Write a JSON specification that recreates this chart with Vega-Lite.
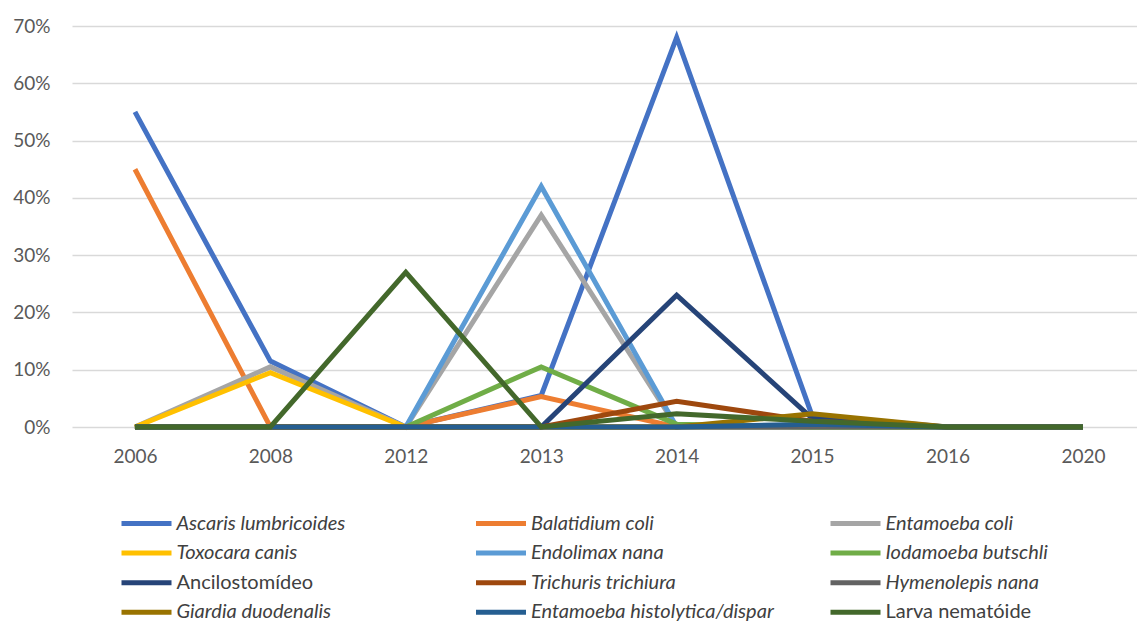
{
  "$schema": "https://vega.github.io/schema/vega-lite/v6.json",
  "autosize": "none",
  "width": 1065,
  "height": 401,
  "padding": {"left": 72, "top": 26, "right": 0, "bottom": 196},
  "background": "white",
  "config": {
    "view": {"stroke": null},
    "font": "Lato"
  },
  "data": {
    "values": [
      {"year": "2006", "species": "Ascaris lumbricoides", "value": 0.55},
      {"year": "2008", "species": "Ascaris lumbricoides", "value": 0.115},
      {"year": "2012", "species": "Ascaris lumbricoides", "value": 0},
      {"year": "2013", "species": "Ascaris lumbricoides", "value": 0.055},
      {"year": "2014", "species": "Ascaris lumbricoides", "value": 0.68},
      {"year": "2015", "species": "Ascaris lumbricoides", "value": 0.02},
      {"year": "2016", "species": "Ascaris lumbricoides", "value": 0},
      {"year": "2020", "species": "Ascaris lumbricoides", "value": 0},

      {"year": "2006", "species": "Balatidium coli", "value": 0.45},
      {"year": "2008", "species": "Balatidium coli", "value": 0},
      {"year": "2012", "species": "Balatidium coli", "value": 0},
      {"year": "2013", "species": "Balatidium coli", "value": 0.053},
      {"year": "2014", "species": "Balatidium coli", "value": 0},
      {"year": "2015", "species": "Balatidium coli", "value": 0},
      {"year": "2016", "species": "Balatidium coli", "value": 0},
      {"year": "2020", "species": "Balatidium coli", "value": 0},

      {"year": "2006", "species": "Entamoeba coli", "value": 0},
      {"year": "2008", "species": "Entamoeba coli", "value": 0.105},
      {"year": "2012", "species": "Entamoeba coli", "value": 0},
      {"year": "2013", "species": "Entamoeba coli", "value": 0.37},
      {"year": "2014", "species": "Entamoeba coli", "value": 0},
      {"year": "2015", "species": "Entamoeba coli", "value": 0},
      {"year": "2016", "species": "Entamoeba coli", "value": 0},
      {"year": "2020", "species": "Entamoeba coli", "value": 0},

      {"year": "2006", "species": "Toxocara canis", "value": 0},
      {"year": "2008", "species": "Toxocara canis", "value": 0.095},
      {"year": "2012", "species": "Toxocara canis", "value": 0},
      {"year": "2013", "species": "Toxocara canis", "value": 0},
      {"year": "2014", "species": "Toxocara canis", "value": 0},
      {"year": "2015", "species": "Toxocara canis", "value": 0},
      {"year": "2016", "species": "Toxocara canis", "value": 0},
      {"year": "2020", "species": "Toxocara canis", "value": 0},

      {"year": "2006", "species": "Endolimax nana", "value": 0},
      {"year": "2008", "species": "Endolimax nana", "value": 0},
      {"year": "2012", "species": "Endolimax nana", "value": 0},
      {"year": "2013", "species": "Endolimax nana", "value": 0.42},
      {"year": "2014", "species": "Endolimax nana", "value": 0},
      {"year": "2015", "species": "Endolimax nana", "value": 0},
      {"year": "2016", "species": "Endolimax nana", "value": 0},
      {"year": "2020", "species": "Endolimax nana", "value": 0},

      {"year": "2006", "species": "Iodamoeba butschli", "value": 0},
      {"year": "2008", "species": "Iodamoeba butschli", "value": 0},
      {"year": "2012", "species": "Iodamoeba butschli", "value": 0},
      {"year": "2013", "species": "Iodamoeba butschli", "value": 0.105},
      {"year": "2014", "species": "Iodamoeba butschli", "value": 0.005},
      {"year": "2015", "species": "Iodamoeba butschli", "value": 0},
      {"year": "2016", "species": "Iodamoeba butschli", "value": 0},
      {"year": "2020", "species": "Iodamoeba butschli", "value": 0},

      {"year": "2006", "species": "Ancilostomídeo", "value": 0},
      {"year": "2008", "species": "Ancilostomídeo", "value": 0},
      {"year": "2012", "species": "Ancilostomídeo", "value": 0},
      {"year": "2013", "species": "Ancilostomídeo", "value": 0},
      {"year": "2014", "species": "Ancilostomídeo", "value": 0.23},
      {"year": "2015", "species": "Ancilostomídeo", "value": 0.015},
      {"year": "2016", "species": "Ancilostomídeo", "value": 0},
      {"year": "2020", "species": "Ancilostomídeo", "value": 0},

      {"year": "2006", "species": "Trichuris trichiura", "value": 0},
      {"year": "2008", "species": "Trichuris trichiura", "value": 0},
      {"year": "2012", "species": "Trichuris trichiura", "value": 0},
      {"year": "2013", "species": "Trichuris trichiura", "value": 0},
      {"year": "2014", "species": "Trichuris trichiura", "value": 0.045},
      {"year": "2015", "species": "Trichuris trichiura", "value": 0.01},
      {"year": "2016", "species": "Trichuris trichiura", "value": 0},
      {"year": "2020", "species": "Trichuris trichiura", "value": 0},

      {"year": "2006", "species": "Hymenolepis nana", "value": 0},
      {"year": "2008", "species": "Hymenolepis nana", "value": 0},
      {"year": "2012", "species": "Hymenolepis nana", "value": 0},
      {"year": "2013", "species": "Hymenolepis nana", "value": 0},
      {"year": "2014", "species": "Hymenolepis nana", "value": 0},
      {"year": "2015", "species": "Hymenolepis nana", "value": 0},
      {"year": "2016", "species": "Hymenolepis nana", "value": 0},
      {"year": "2020", "species": "Hymenolepis nana", "value": 0},

      {"year": "2006", "species": "Giardia duodenalis", "value": 0},
      {"year": "2008", "species": "Giardia duodenalis", "value": 0},
      {"year": "2012", "species": "Giardia duodenalis", "value": 0},
      {"year": "2013", "species": "Giardia duodenalis", "value": 0},
      {"year": "2014", "species": "Giardia duodenalis", "value": 0},
      {"year": "2015", "species": "Giardia duodenalis", "value": 0.023},
      {"year": "2016", "species": "Giardia duodenalis", "value": 0},
      {"year": "2020", "species": "Giardia duodenalis", "value": 0},

      {"year": "2006", "species": "Entamoeba histolytica/dispar", "value": 0},
      {"year": "2008", "species": "Entamoeba histolytica/dispar", "value": 0},
      {"year": "2012", "species": "Entamoeba histolytica/dispar", "value": 0},
      {"year": "2013", "species": "Entamoeba histolytica/dispar", "value": 0},
      {"year": "2014", "species": "Entamoeba histolytica/dispar", "value": 0},
      {"year": "2015", "species": "Entamoeba histolytica/dispar", "value": 0.005},
      {"year": "2016", "species": "Entamoeba histolytica/dispar", "value": 0},
      {"year": "2020", "species": "Entamoeba histolytica/dispar", "value": 0},

      {"year": "2006", "species": "Larva nematóide", "value": 0},
      {"year": "2008", "species": "Larva nematóide", "value": 0},
      {"year": "2012", "species": "Larva nematóide", "value": 0.27},
      {"year": "2013", "species": "Larva nematóide", "value": 0},
      {"year": "2014", "species": "Larva nematóide", "value": 0.023},
      {"year": "2015", "species": "Larva nematóide", "value": 0.01},
      {"year": "2016", "species": "Larva nematóide", "value": 0},
      {"year": "2020", "species": "Larva nematóide", "value": 0}
    ]
  },
  "mark": {"type": "line", "strokeWidth": 5, "strokeJoin": "miter"},
  "encoding": {
    "x": {
      "field": "year",
      "type": "ordinal",
      "scale": {"type": "point", "padding": 0.432, "align": 0.538},
      "axis": {
        "title": null,
        "domain": false,
        "ticks": false,
        "grid": false,
        "labelAngle": 0,
        "labelFont": "Lato",
        "labelFontSize": 19,
        "labelColor": "#595959",
        "labelPadding": 20
      }
    },
    "y": {
      "field": "value",
      "type": "quantitative",
      "scale": {"domain": [0, 0.7], "nice": false},
      "axis": {
        "title": null,
        "values": [0, 0.1, 0.2, 0.3, 0.4, 0.5, 0.6, 0.7],
        "format": ".0%",
        "domain": false,
        "ticks": false,
        "gridColor": "#d9d9d9",
        "gridWidth": 1.5,
        "labelFont": "Lato",
        "labelFontSize": 19,
        "labelColor": "#595959",
        "labelPadding": 22
      }
    },
    "color": {
      "field": "species",
      "type": "nominal",
      "sort": ["Ascaris lumbricoides", "Balatidium coli", "Entamoeba coli", "Toxocara canis", "Endolimax nana", "Iodamoeba butschli", "Ancilostomídeo", "Trichuris trichiura", "Hymenolepis nana", "Giardia duodenalis", "Entamoeba histolytica/dispar", "Larva nematóide"],
      "scale": {
        "domain": ["Ascaris lumbricoides", "Balatidium coli", "Entamoeba coli", "Toxocara canis", "Endolimax nana", "Iodamoeba butschli", "Ancilostomídeo", "Trichuris trichiura", "Hymenolepis nana", "Giardia duodenalis", "Entamoeba histolytica/dispar", "Larva nematóide"],
        "range": ["#4472C4", "#ED7D31", "#A5A5A5", "#FFC000", "#5B9BD5", "#70AD47", "#264478", "#9E480E", "#636363", "#997300", "#255E91", "#43682B"]
      },
      "legend": {
        "title": null,
        "orient": "none",
        "legendX": 59.5,
        "legendY": 482.5,
        "direction": "horizontal",
        "columns": 3,
        "gridAlign": "all",
        "columnPadding": 46.5,
        "rowPadding": 4.6,
        "padding": 0,
        "symbolType": "M-2,0H2",
        "symbolSize": 625,
        "symbolStrokeWidth": 5,
        "labelOffset": 15,
        "labelFont": "Lato",
        "labelFontSize": 20,
        "labelColor": "#404040",
        "labelLimit": 400,
        "encode": {
          "labels": {
            "update": {
              "fontStyle": [
                {"test": "datum.label === 'Ancilostomídeo' || datum.label === 'Larva nematóide'", "value": "normal"},
                {"value": "italic"}
              ]
            }
          }
        }
      }
    }
  }
}
